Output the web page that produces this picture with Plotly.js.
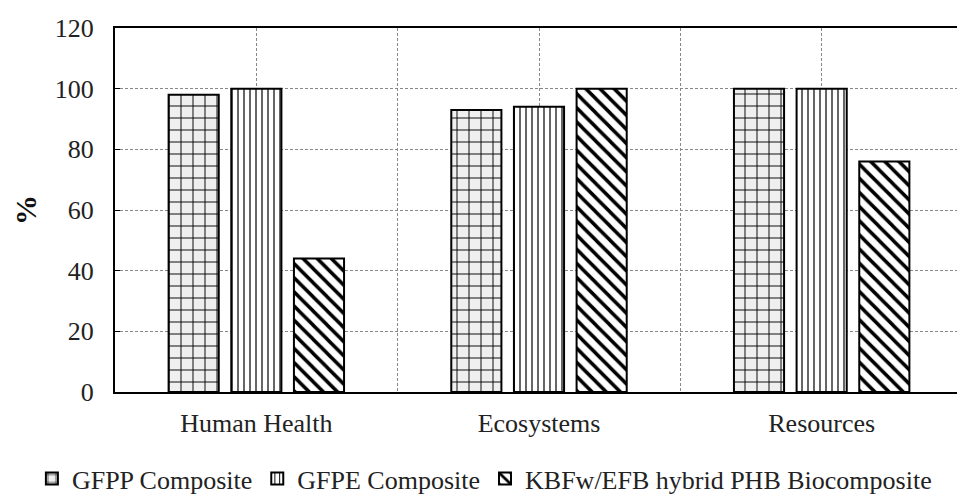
<!DOCTYPE html>
<html>
<head>
<meta charset="utf-8">
<script src="https://cdn.plot.ly/plotly-3.0.1.min.js"></script>
<style>
html, body { margin:0; padding:0; overflow:hidden; background:#fff; }
#chart { width:970px; height:497px; }
</style>
</head>
<body>
<div id="chart"></div>
<script>
const categories = ['Human Health', 'Ecosystems', 'Resources'];
const seriesNames = ['GFPP Composite', 'GFPE Composite', 'KBFw/EFB hybrid PHB Biocomposite'];
const gfpp = [98, 93, 100];
const gfpe = [100, 94, 100];
const kbf = [44, 100, 76];
const yTicks = [0, 20, 40, 60, 80, 100, 120];

const xIdx = categories.map((c, i) => i);
const font = 'Liberation Serif';

function bar(name, y, shape, bg, size, solidity) {
  return {
    type: 'bar', name: name, x: xIdx, y: y,
    marker: {
      color: bg,
      line: {color: '#000', width: 2},
      pattern: {shape: shape, fgcolor: '#000', bgcolor: bg, size: size, solidity: solidity, fillmode: 'replace'}
    },
    hoverinfo: 'skip'
  };
}

const data = [
  bar(seriesNames[0], gfpp, '+', '#efefef', 12, 0.15),
  bar(seriesNames[1], gfpe, '|', '#ffffff', 6, 0.2),
  bar(seriesNames[2], kbf, '\\', '#ffffff', 10, 0.35)
];

const tickvals = [];
const ticktext = [];
categories.forEach((c, i) => { tickvals.push(i); ticktext.push(c); tickvals.push(i + 0.5); ticktext.push(''); });

const layout = {
  width: 970, height: 497,
  margin: {l: 115, r: 7, t: 28, b: 105, autoexpand: false},
  paper_bgcolor: '#fff', plot_bgcolor: '#fff',
  font: {family: font, size: 26, color: '#222'},
  barmode: 'group', bargap: 0.335, bargroupgap: 0.2,
  showlegend: true,
  legend: {orientation: 'h', x: -0.098, xanchor: 'left', y: -0.238, yanchor: 'middle',
           font: {family: font, size: 26, color: '#222'}, traceorder: 'normal'},
  xaxis: {
    range: [-0.5, 2.5], tickvals: tickvals, ticktext: ticktext, automargin: false,
    showgrid: true, gridcolor: '#888', griddash: '3px,2px', gridwidth: 1,
    showline: true, linecolor: '#000', linewidth: 2, mirror: true,
    ticks: '', ticklabelstandoff: 7, zeroline: false,
    tickfont: {family: font, size: 26, color: '#222'}
  },
  yaxis: {
    range: [0, 120], tickvals: yTicks, automargin: false,
    showgrid: true, gridcolor: '#888', griddash: '3px,2px', gridwidth: 1,
    showline: true, linecolor: '#000', linewidth: 2, mirror: true,
    ticks: 'inside', ticklen: 5, tickcolor: '#000', ticklabelstandoff: 14, zeroline: false,
    tickfont: {family: font, size: 26, color: '#222'},
    title: {text: '%', font: {family: font, size: 30, color: '#111', weight: 'bold'}, standoff: 9}
  }
};

Plotly.newPlot('chart', data, layout, {displayModeBar: false, staticPlot: true});
</script>
</body>
</html>
